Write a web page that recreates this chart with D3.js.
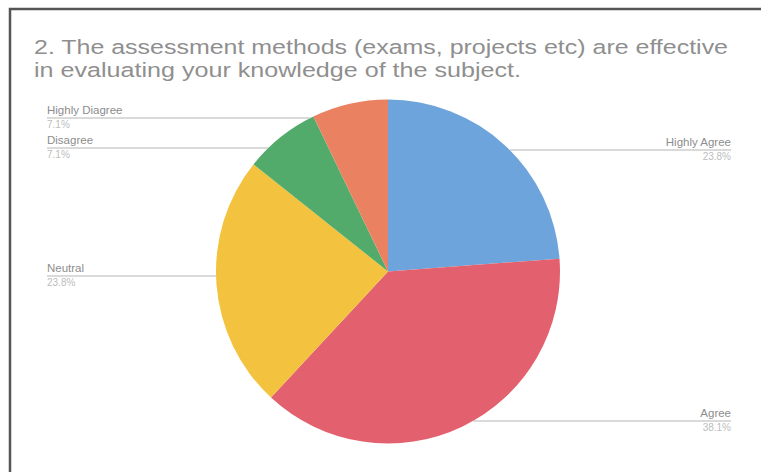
<!DOCTYPE html>
<html><head><meta charset="utf-8">
<script src="https://cdn.jsdelivr.net/npm/d3@7"></script>
<style>body{margin:0;background:#fff;}svg{display:block;}</style>
</head><body>
<svg id="chart" width="761" height="472"></svg>
<script>
const titleLines = ["2. The assessment methods (exams, projects etc) are effective",
                    "in evaluating your knowledge of the subject."];
const categories = ["Highly Agree", "Agree", "Neutral", "Disagree", "Highly Diagree"];
const counts = [10, 16, 10, 3, 3];
const pctLabels = ["23.8%", "38.1%", "23.8%", "7.1%", "7.1%"];
const colors = ["#6ea4dc", "#e3616f", "#f3c33f", "#52ab6a", "#ea8262"];

const svg = d3.select("#chart");
const W = 761, H = 472;
// frame
svg.append("path").attr("d", "M10,472 L10,9 L761,9").attr("fill","none")
  .attr("stroke","#555").attr("stroke-width",2.5);

// title
const titleWidths = [694, 487];
titleLines.forEach((t,i)=>{
  svg.append("text").attr("x",34).attr("y",54+i*23).text(t)
    .attr("font-family","Liberation Sans, Arial, sans-serif").attr("font-size",20.5)
    .attr("textLength",titleWidths[i]).attr("lengthAdjust","spacingAndGlyphs")
    .attr("fill","#8f8f8f");
});

const cx = 388, cy = 271.5, R = 172;
const pie = d3.pie().sort(null).value(d=>d)(counts);
const arc = d3.arc().innerRadius(0).outerRadius(R);
const g = svg.append("g").attr("transform",`translate(${cx},${cy})`);
g.selectAll("path").data(pie).enter().append("path")
  .attr("d",arc).attr("fill",(d,i)=>colors[i]);

// leader label positions (label baseline y, side)
const labelPos = [
  {y:150, side:"right"},
  {y:421, side:"right"},
  {y:276, side:"left"},
  {y:148, side:"left"},
  {y:118, side:"left"}
];
const font = "Liberation Sans, Arial, sans-serif";
labelPos.forEach((p,i)=>{
  const dy = p.y - cy;
  const dx = Math.sqrt(Math.max(0, R*R - dy*dy));
  let x1, x2, tx, anchor;
  if (p.side === "right") { x1 = cx + dx; x2 = 731; tx = 731; anchor = "end"; }
  else { x1 = 47; x2 = cx - dx; tx = 47; anchor = "start"; }
  svg.append("line").attr("x1",x1).attr("x2",x2).attr("y1",p.y).attr("y2",p.y)
    .attr("stroke","#b5b5b5").attr("stroke-width",1);
  svg.append("text").attr("x",tx).attr("y",p.y-4).attr("text-anchor",anchor)
    .attr("font-family",font).attr("font-size",11.5).attr("fill","#8d8d8d")
    .text(categories[i]);
  svg.append("text").attr("x",tx).attr("y",p.y+10).attr("text-anchor",anchor)
    .attr("font-family",font).attr("font-size",10).attr("fill","#bdbdbd")
    .text(pctLabels[i]);
});
</script>
</body></html>
